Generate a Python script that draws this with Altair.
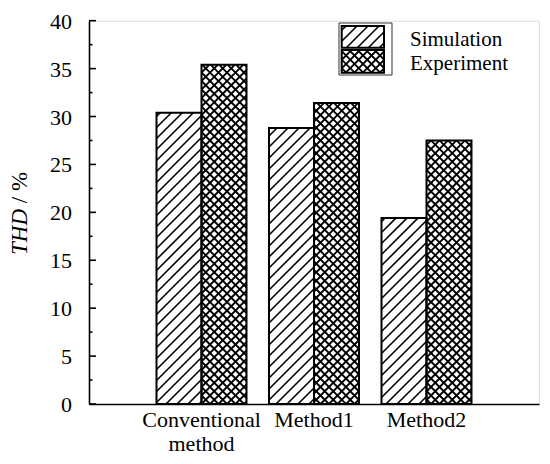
import math
import altair as alt
import pandas as pd

# ---------------- data ----------------
categories = ["Conventional\nmethod", "Method1", "Method2"]
simulation = [30.4, 28.8, 19.4]
experiment = [35.4, 31.4, 27.5]
series = ["Simulation", "Experiment"]
y_tick_values = [0, 5, 10, 15, 20, 25, 30, 35, 40]
y_minor_values = [2.5, 7.5, 12.5, 17.5, 22.5, 27.5, 32.5, 37.5]

# ---------------- layout / style ----------------
W, H = 450, 383.3
XMAX, YMAX = 4, 40
PXX = W / XMAX
PXY = H / YMAX
BAR_W = 0.4
FONT = "Liberation Serif"
SIM_SP, SIM_LW = 11.0, 1.6
CROSS_SP, CROSS_LW = 8.5, 1.8

# legend geometry (pixels inside the plot area, from top-left)
LEG_BOX = (250, 303, 2.3, 54.3)
LEG_SW = [(252.7, 295, 5.3, 27.0), (252.7, 295, 29.3, 52.0)]
LEG_TX = 321
LEG_TY = [25.6, 48.8]


def hatch(u0, u1, w0, w1, sp, dirs, phase=0.0):
    """Clipped hatch segments for a rect given in plot pixels (u right, w up);
    returned in data units."""
    segs = []
    if "up" in dirs:
        kmin = math.ceil((u0 - w1 - phase) / sp)
        kmax = math.floor((u1 - w0 - phase) / sp)
        for k in range(kmin, kmax + 1):
            d = k * sp + phase
            ua, ub = max(u0, w0 + d), min(u1, w1 + d)
            if ub - ua > 0.4:
                segs.append((ua, ua - d, ub, ub - d))
    if "down" in dirs:
        kmin = math.ceil((u0 + w0 - phase) / sp)
        kmax = math.floor((u1 + w1 - phase) / sp)
        for k in range(kmin, kmax + 1):
            e = k * sp + phase
            ua, ub = max(u0, e - w1), min(u1, e - w0)
            if ub - ua > 0.4:
                segs.append((ua, e - ua, ub, e - ub))
    return [
        {"hx": a / PXX, "hy": b / PXY, "hx2": c / PXX, "hy2": d / PXY}
        for a, b, c, d in segs
    ]


# bars
bar_rows = []
for i, cat in enumerate(categories):
    pos = i + 1
    for s, vals in zip(series, [simulation, experiment]):
        x0 = pos - BAR_W if s == "Simulation" else pos
        bar_rows.append({"cat": cat, "series": s, "pos": pos, "x0": x0,
                         "x1": x0 + BAR_W, "y0": 0.0, "y1": vals[i]})
bars = pd.DataFrame(bar_rows)

# legend swatches (in data units)
sw_rows = []
for s, (a, b, t, btm) in zip(series, LEG_SW):
    sw_rows.append({"series": s, "x0": a / PXX, "x1": b / PXX,
                    "y0": YMAX - btm / PXY, "y1": YMAX - t / PXY})
swatches = pd.DataFrame(sw_rows)
rects = pd.concat([bars[["series", "x0", "x1", "y0", "y1"]], swatches],
                  ignore_index=True)

sim_h, cross_h = [], []
for r in rects.itertuples():
    u0, u1, w0, w1 = r.x0 * PXX, r.x1 * PXX, r.y0 * PXY, r.y1 * PXY
    if r.series == "Simulation":
        sim_h += hatch(u0, u1, w0, w1, SIM_SP, ("up",))
    else:
        cross_h += hatch(u0, u1, w0, w1, CROSS_SP, ("up", "down"), 2.0)
sim_df = pd.DataFrame(sim_h)
cross_df = pd.DataFrame(cross_h)

xs = alt.Scale(domain=[0, XMAX], nice=False, zero=False)
ys = alt.Scale(domain=[0, YMAX], nice=False, zero=True)

x_axis = alt.Axis(labels=False, ticks=False, grid=False, title=None,
                  domainColor="black", domainWidth=1.6)
y_axis = alt.Axis(values=y_tick_values, labels=False, ticks=False, grid=False,
                  title=None, domainColor="black", domainWidth=1.6)


def X(field):
    return alt.X(field, type="quantitative", scale=xs, axis=x_axis)


def Y(field):
    return alt.Y(field, type="quantitative", scale=ys, axis=y_axis)


base_rect = alt.Chart(rects).mark_rect(fill="white").encode(
    x=X("x0"), x2="x1", y=Y("y0"), y2="y1",
)

sim_layer = alt.Chart(sim_df).mark_rule(color="black", strokeWidth=SIM_LW).encode(
    x=X("hx"), x2="hx2", y=Y("hy"), y2="hy2",
)
cross_layer = alt.Chart(cross_df).mark_rule(color="black", strokeWidth=CROSS_LW).encode(
    x=X("hx"), x2="hx2", y=Y("hy"), y2="hy2",
)

outline = alt.Chart(rects).mark_rect(fill="white", fillOpacity=0,
                                     stroke="black", strokeWidth=2).encode(
    x=X("x0"), x2="x1", y=Y("y0"), y2="y1",
)

leg_box = alt.Chart(alt.Data(values=[{}])).mark_rect(
    fill="white", fillOpacity=0, stroke="#333333", strokeWidth=1
).encode(
    x=alt.value(LEG_BOX[0]), x2=alt.value(LEG_BOX[1]),
    y=alt.value(LEG_BOX[2]), y2=alt.value(LEG_BOX[3]),
)

leg_texts = [
    alt.Chart(alt.Data(values=[{}])).mark_text(
        text=s, font=FONT, fontSize=21, align="left", baseline="alphabetic",
        color="black"
    ).encode(x=alt.value(LEG_TX), y=alt.value(ty))
    for s, ty in zip(series, LEG_TY)
]

x_labels = alt.Chart(pd.DataFrame({"cat": categories, "pos": [1, 2, 3]})).mark_text(
    font=FONT, fontSize=22, align="center", baseline="alphabetic",
    lineBreak="\n", lineHeight=24, color="black"
).encode(
    x=X("pos"),
    y=alt.value(H + 22.7),
    text="cat:N",
)

y_labels = alt.Chart(pd.DataFrame({"v": y_tick_values})).mark_text(
    font=FONT, fontSize=22, align="right", baseline="middle", color="black",
    dy=1
).encode(
    y=Y("v"), x=alt.value(-17), text="v:Q",
)

major_ticks = alt.Chart(pd.DataFrame({"v": y_tick_values})).mark_rule(
    color="black", strokeWidth=1.6
).encode(
    y=Y("v"), x=alt.value(0), x2=alt.value(7),
)
minor_ticks = alt.Chart(pd.DataFrame({"v": y_minor_values})).mark_rule(
    color="black", strokeWidth=1.6
).encode(
    y=Y("v"), x=alt.value(0), x2=alt.value(3.5),
)

title_italic = alt.Chart(alt.Data(values=[{}])).mark_text(
    text="THD", font=FONT, fontSize=23, fontStyle="italic", angle=270,
    align="left", baseline="middle", color="black"
).encode(x=alt.value(-69), y=alt.value(234.3))
title_rest = alt.Chart(alt.Data(values=[{}])).mark_text(
    text="/ %", font=FONT, fontSize=23, angle=270,
    align="left", baseline="middle", color="black"
).encode(x=alt.value(-69), y=alt.value(182.5))

chart = alt.layer(
    base_rect, sim_layer, cross_layer, outline, leg_box, *leg_texts,
    x_labels, y_labels, major_ticks, minor_ticks, title_italic, title_rest,
).properties(
    width=W, height=H,
    autosize=alt.AutoSizeParams(type="none"),
    padding={"left": 81, "top": 12.7, "right": 3, "bottom": 52},
).configure_view(stroke=None).configure(background="white")

chart.save("out.html", embed_options={"renderer": "svg", "actions": False})
